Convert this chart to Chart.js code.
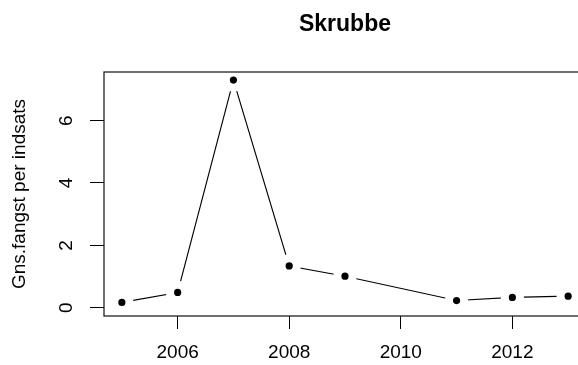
<!DOCTYPE html>
<html>
<head>
<meta charset="utf-8">
<script src="https://cdn.jsdelivr.net/npm/chart.js@4/dist/chart.umd.min.js"></script>
<style>
  html, body { margin: 0; padding: 0; background: #fff; overflow: hidden; }
  #wrap { width: 578px; height: 365px; overflow: hidden; position: relative; }
  canvas { display: block; }
</style>
</head>
<body>
<div id="wrap"><canvas id="c" width="688" height="365"></canvas></div>
<script>
// Mean catch per effort for flounder (skrubbe), by year; no survey in 2010
const years  = [2005, 2006, 2007, 2008, 2009, 2011, 2012, 2013];
const values = [0.17, 0.49, 7.30, 1.34, 1.01, 0.23, 0.33, 0.37];

const xTicks = [2006, 2008, 2010, 2012];
const yTicks = [0, 2, 4, 6];

const FONT = "'Liberation Sans', Arial, Helvetica, sans-serif";

// Plot frame drawn on top of the data
const frame = {
  id: 'frame',
  afterDatasetsDraw(chart) {
    const a = chart.chartArea, ctx = chart.ctx;
    ctx.save();
    ctx.strokeStyle = '#222';
    ctx.lineWidth = 1.3;
    ctx.strokeRect(a.left, a.top, a.right - a.left, a.bottom - a.top);
    ctx.restore();
  }
};

new Chart(document.getElementById('c'), {
  type: 'line',
  data: {
    datasets: [{
      data: years.map((y, i) => ({ x: y, y: values[i] })),
      borderColor: '#000',
      borderWidth: 1.1,
      tension: 0,
      // white ring around each dot leaves a gap in the connecting line
      pointRadius: 7.6,
      pointBorderWidth: 8,
      pointBorderColor: '#fff',
      pointBackgroundColor: '#000',
      pointHoverRadius: 7.6
    }]
  },
  options: {
    responsive: false,
    devicePixelRatio: 1,
    animation: false,
    events: [],
    layout: { padding: { left: 0, right: 102, top: 0, bottom: 0 } },
    plugins: {
      legend: { display: false },
      tooltip: { enabled: false },
      title: {
        display: true,
        fullSize: false,
        text: 'Skrubbe',
        color: '#000',
        font: { family: FONT, size: 23, weight: 'bold', lineHeight: 1.2 },
        padding: { top: 11, bottom: 33.4 }
      }
    },
    scales: {
      x: {
        type: 'linear',
        min: 2004.68,
        max: 2013.32,
        afterBuildTicks: s => { s.ticks = xTicks.map(v => ({ value: v })); },
        afterFit: s => { s.height = 49; },
        border: { display: false },
        grid: { drawOnChartArea: false, drawTicks: true, tickLength: 13, color: '#000', lineWidth: 1 },
        ticks: {
          color: '#000',
          padding: 12,
          maxRotation: 0,
          font: { family: FONT, size: 19 },
          callback: v => String(v)
        }
      },
      y: {
        type: 'linear',
        min: -0.266,
        max: 7.56,
        afterBuildTicks: s => { s.ticks = yTicks.map(v => ({ value: v })); },
        afterFit: s => { s.width = 104; },
        border: { display: false },
        grid: { drawOnChartArea: false, drawTicks: true, tickLength: 14, color: '#000', lineWidth: 1 },
        ticks: {
          color: '#000',
          padding: 18,
          minRotation: 90,
          maxRotation: 90,
          crossAlign: 'center',
          font: { family: FONT, size: 19 },
          callback: v => String(v)
        },
        title: {
          display: true,
          text: 'Gns.fangst per indsats',
          color: '#000',
          font: { family: FONT, size: 19 },
          padding: { top: 8, bottom: 0 }
        }
      }
    }
  },
  plugins: [frame]
});
</script>
</body>
</html>
